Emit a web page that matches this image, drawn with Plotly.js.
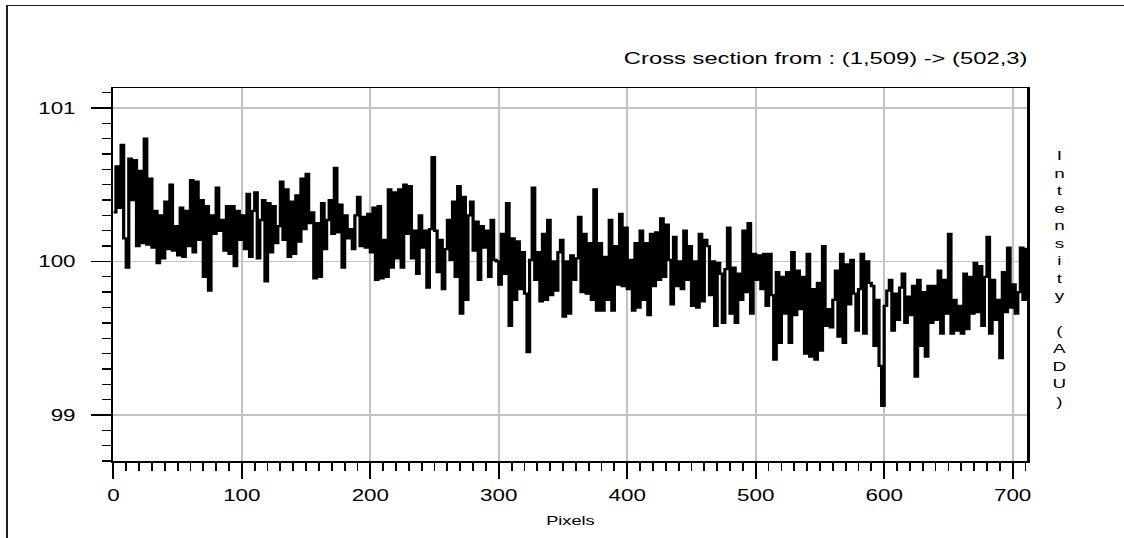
<!DOCTYPE html>
<html>
<head>
<meta charset="utf-8">
<script src="https://cdn.plot.ly/plotly-3.0.1.min.js"></script>
<style>
  html, body { margin: 0; padding: 0; background: #fff; overflow: hidden; width: 1124px; height: 538px; }
  #chart { position: absolute; left: 0; top: 0; width: 803px; height: 538px;
           transform: scaleX(1.39975); transform-origin: 0 0; }
  #frame { position: absolute; left: 6px; top: 5px; right: -60px; bottom: -60px;
           border-left: 2px solid #1c1c1c; border-top: 1px solid #1c1c1c;
           pointer-events: none; }
</style>
</head>
<body>
<div id="chart"></div>
<div id="frame"></div>
<script>
// Cross-section profile: one intensity sample every 2 pixels along the cut
const pixelStep = 2;
const intensity = [
  100.32, 100.62, 100.35, 100.76, 100.15, 99.96, 100.67, 100.40, 100.66, 100.10,
  100.59, 100.12, 100.80, 100.11, 100.54, 100.09, 100.33, 99.99, 100.30, 100.02,
  100.39, 100.08, 100.50, 100.07, 100.23, 100.04, 100.35, 100.03, 100.33, 100.10,
  100.53, 100.06, 100.52, 100.14, 100.40, 99.90, 100.36, 99.81, 100.30, 100.18,
  100.48, 100.20, 100.27, 100.07, 100.36, 100.05, 100.36, 99.97, 100.33, 100.14,
  100.30, 100.08, 100.44, 100.03, 100.33, 100.45, 100.02, 100.27, 100.40, 99.87,
  100.38, 100.06, 100.36, 100.12, 100.23, 100.52, 100.14, 100.47, 100.03, 100.39,
  100.05, 100.43, 100.13, 100.54, 100.21, 100.57, 100.25, 100.32, 99.89, 100.25,
  99.90, 100.38, 100.08, 100.27, 100.40, 100.18, 100.61, 100.19, 100.37, 99.96,
  100.30, 100.15, 100.21, 100.08, 100.30, 100.42, 100.10, 100.29, 100.09, 100.31,
  100.06, 100.35, 99.88, 100.36, 99.89, 100.14, 99.90, 100.47, 99.96, 100.45,
  100.02, 100.47, 99.96, 100.50, 100.18, 100.49, 100.02, 100.20, 99.92, 100.30,
  100.09, 100.20, 99.83, 100.21, 100.68, 100.20, 99.93, 100.14, 99.82, 100.08,
  100.27, 100.01, 100.39, 99.90, 100.49, 99.66, 100.42, 99.75, 100.30, 100.39,
  100.07, 100.26, 99.88, 100.23, 100.09, 100.20, 99.90, 100.27, 100.01, 100.00,
  99.85, 100.18, 99.92, 100.38, 99.58, 100.15, 99.75, 100.13, 99.82, 100.06,
  99.79, 99.41, 100.01, 100.48, 99.88, 100.06, 99.74, 100.18, 99.75, 100.27,
  99.78, 100.00, 99.81, 100.06, 100.14, 99.64, 100.00, 99.66, 100.04, 99.88,
  100.02, 100.29, 99.80, 100.18, 99.79, 100.12, 99.75, 100.47, 99.68, 100.12,
  99.68, 100.03, 99.75, 100.27, 99.68, 100.10, 99.85, 100.31, 99.84, 100.22,
  99.82, 100.01, 99.68, 100.12, 99.70, 100.20, 99.75, 100.12, 99.65, 100.18,
  99.84, 100.19, 99.88, 100.28, 99.90, 100.24, 100.01, 99.72, 100.16, 99.84,
  100.00, 99.82, 100.20, 99.88, 100.10, 99.71, 100.00, 99.70, 100.18, 99.74,
  100.14, 100.10, 99.78, 100.00, 99.58, 99.99, 99.92, 99.60, 99.95, 100.22,
  99.66, 99.96, 99.60, 99.92, 99.75, 100.20, 99.80, 100.25, 99.66, 100.05,
  99.88, 100.04, 99.82, 100.05, 99.71, 100.05, 99.78, 99.36, 99.93, 99.47,
  99.90, 99.66, 99.93, 99.47, 100.06, 99.65, 99.94, 99.69, 99.90, 99.40,
  100.05, 99.38, 99.82, 99.36, 99.86, 99.42, 100.10, 99.58, 99.69, 99.57,
  99.75, 99.94, 99.51, 100.05, 99.47, 99.98, 99.72, 100.01, 99.79, 99.55,
  99.82, 100.05, 99.53, 100.00, 99.86, 99.84, 99.45, 99.75, 99.32, 99.06,
  99.71, 99.81, 99.88, 99.55, 99.79, 99.62, 99.83, 99.92, 99.60, 99.77,
  99.65, 99.84, 99.25, 99.88, 99.45, 99.80, 99.38, 99.84, 99.60, 99.84,
  99.62, 99.94, 99.53, 99.88, 99.66, 100.18, 99.53, 99.75, 99.55, 99.71,
  99.53, 99.92, 99.56, 99.90, 99.66, 99.99, 99.67, 99.97, 99.58, 99.90,
  100.16, 99.53, 99.88, 99.62, 99.75, 99.37, 99.93, 99.67, 100.09, 99.70,
  99.85, 99.66, 99.80, 100.09, 99.75, 100.09
];
const pixels = intensity.map((_, i) => i * pixelStep);

const xTickVals = [0, 100, 200, 300, 400, 500, 600, 700];
const yTickVals = [99, 100, 101];

const titleText = 'Cross section from : (1,509) -> (502,3)';
const xTitle = 'Pixels';
const yTitle = 'Intensity (ADU)';

const font = 'Liberation Sans, Arial, sans-serif';

const trace = {
  x: pixels,
  y: intensity,
  type: 'scatter',
  mode: 'lines',
  line: { color: '#000', width: 2.3, shape: 'hv' },
  hoverinfo: 'skip'
};

const layout = {
  width: 803,
  height: 538,
  margin: { l: 81, r: 69, t: 88, b: 77 },
  paper_bgcolor: 'rgba(0,0,0,0)',
  plot_bgcolor: '#fff',
  showlegend: false,
  font: { family: font, color: '#000', size: 16 },
  title: {
    text: titleText,
    font: { family: font, size: 17, color: '#000' },
    x: 1, xref: 'paper', xanchor: 'right',
    y: 1 - 58 / 538, yref: 'container', yanchor: 'middle'
  },
  xaxis: {
    range: [0, 711.5],
    tickmode: 'array', tickvals: xTickVals,
    ticks: 'outside', ticklen: 16, tickwidth: 1.5, tickcolor: '#000',
    ticklabelstandoff: 3,
    tickfont: { family: font, size: 16, color: '#000' },
    minor: { dtick: 10, tick0: 0, ticks: 'outside', ticklen: 8, tickwidth: 1.3, tickcolor: '#000', showgrid: false },
    showgrid: true, gridcolor: '#c2c2c2', gridwidth: 1.3,
    showline: true, linecolor: '#000', linewidth: 1.5, mirror: true,
    zeroline: false,
    title: { text: xTitle, font: { family: font, size: 13, color: '#000' }, standoff: 13 }
  },
  yaxis: {
    range: [98.70, 101.13],
    tickmode: 'array', tickvals: yTickVals,
    ticks: 'outside', ticklen: 14.3, tickwidth: 1.5, tickcolor: '#000',
    ticklabelstandoff: 8,
    tickfont: { family: font, size: 16, color: '#000' },
    minor: { dtick: 0.1, tick0: 99, ticks: 'outside', ticklen: 6.4, tickwidth: 1.3, tickcolor: '#000', showgrid: false },
    showgrid: true, gridcolor: '#c2c2c2', gridwidth: 1.3,
    showline: true, linecolor: '#000', linewidth: 1.5, mirror: true,
    zeroline: false
  },
  annotations: [{
    text: yTitle.split('').map(c => (c === ' ' ? '\u00a0' : c)).join('<br>'),
    xref: 'paper', yref: 'paper',
    x: 1.035, y: 0.49,
    xanchor: 'center', yanchor: 'middle',
    showarrow: false, align: 'center',
    font: { family: font, size: 13.5, color: '#000' }
  }]
};

Plotly.newPlot('chart', [trace], layout, { staticPlot: true, displayModeBar: false });
</script>
</body>
</html>
